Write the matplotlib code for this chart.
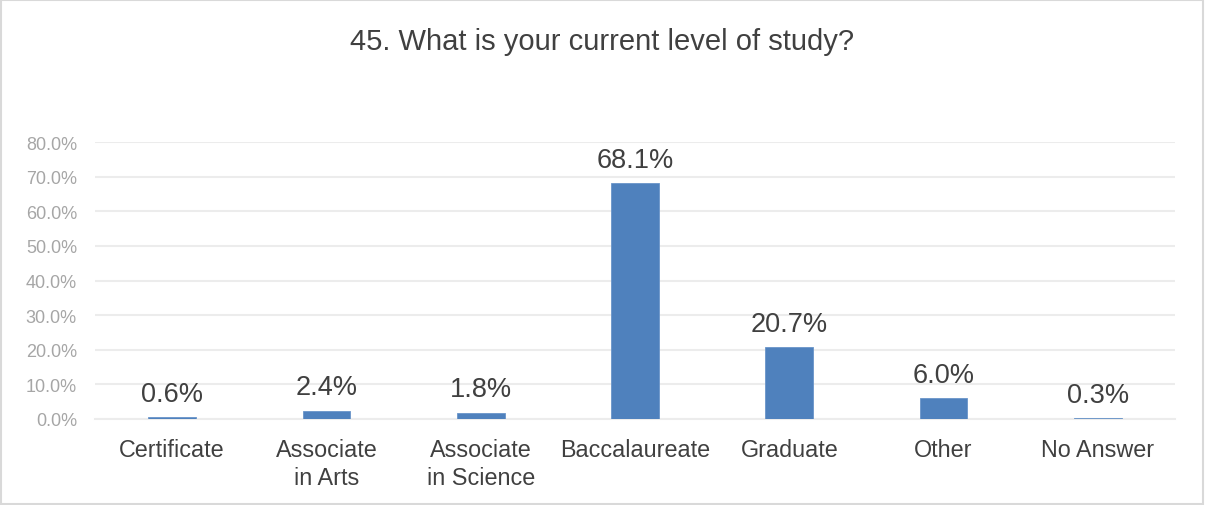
import matplotlib
matplotlib.use("Agg")
import matplotlib.pyplot as plt
from matplotlib.ticker import PercentFormatter
from matplotlib.patches import Rectangle

categories = ["Certificate", "Associate\nin Arts", "Associate\nin Science", "Baccalaureate",
              "Graduate", "Other", "No Answer"]
values = [0.6, 2.4, 1.8, 68.1, 20.7, 6.0, 0.3]
yticks = [0, 10, 20, 30, 40, 50, 60, 70, 80]
title = "45. What is your current level of study?"

plt.rcParams['font.family'] = ['Liberation Sans', 'DejaVu Sans']

fig = plt.figure(figsize=(12.05, 5.06), dpi=100)
ax = fig.add_axes([95/1205, 86/506, 1080/1205, 277/506])

x = list(range(len(categories)))
ax.bar(x, values, width=0.31, color="#4f81bd", edgecolor="#6a95c9", linewidth=0.6, zorder=3)
for xi, v in zip(x, values):
    ax.text(xi, v + 3.0, f"{v:.1f}%", ha="center", va="bottom", fontsize=19.5, color="#404040")

ax.set_xlim(-0.5, len(categories) - 0.5)
ax.set_ylim(0, 80)
ax.set_yticks(yticks)
ax.yaxis.set_major_formatter(PercentFormatter(decimals=1))
ax.set_xticks(x)
ax.set_xticklabels(categories, fontsize=16.8, color="#404040", linespacing=1.27)
ax.tick_params(axis="y", labelsize=13, labelcolor="#a6a6a6", length=0, pad=13)
ax.tick_params(axis="x", length=0, pad=14)
ax.grid(axis="y", color="#ececec", linewidth=1.5, zorder=0)
for s in ["top", "right", "left"]:
    ax.spines[s].set_visible(False)
ax.spines["bottom"].set_color("#ececec")
ax.spines["bottom"].set_linewidth(1.5)

fig.text(0.5, 1 - 42/506, title, ha="center", va="center", fontsize=21, color="#404040")
fig.patches.append(Rectangle((0.001, 0.002), 0.997, 0.996, transform=fig.transFigure,
                             fill=False, edgecolor="#d9d9d9", linewidth=1.5))

fig.savefig("out.png", dpi=100)
